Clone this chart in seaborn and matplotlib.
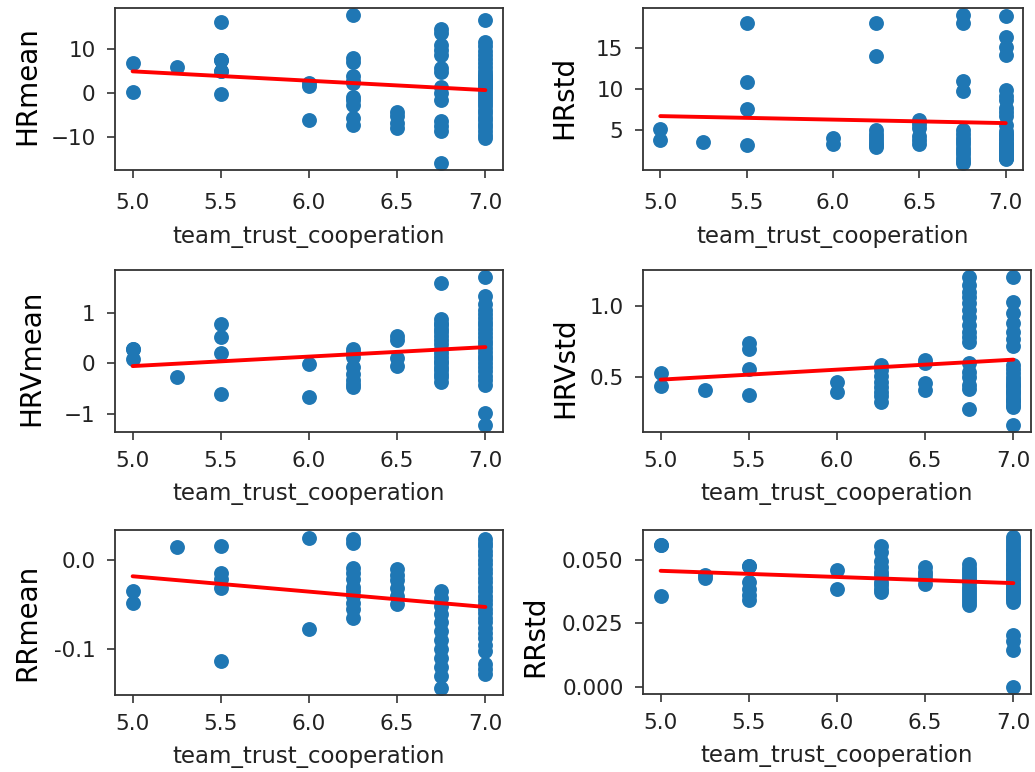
import numpy as np
import pandas as pd
import matplotlib
matplotlib.use("Agg")
import matplotlib.pyplot as plt
import seaborn as sns

# ---------------- data ----------------
x_levels = [5.0, 5.25, 5.5, 6.0, 6.25, 6.5, 6.75, 7.0]
x_name = "team_trust_cooperation"

hr_mean = [
    [6.9, 0.3],
    [6.0],
    [16.1, 7.5, 7.5, 5.1, 5.1, -0.1],
    [2.4, 1.6, -6.0],
    [17.7, 7.9, 7.2, 3.8, 2.8, 2.3, -0.8, -1.5, -2.6, -5.7, -7.2],
    [-4.2, -5.3, -6.8, -7.9],
    [14.7, 13.6, 10.9, 9.8, 8.7, 5.7, 4.9, 1.5, 0.0, -1.5, -6.4, -7.5, -8.7, -15.8],
    [16.6, 11.7, 10.8, 9.6, 8.7, 7.8, 6.9, 6.0, 5.1, 4.3, 3.8, 3.5, 3.0, 2.7, 2.2, 1.9,
     1.5, 1.2, 0.5, -0.2, -0.9, -1.6, -2.3, -3.0, -3.8, -4.6, -5.4, -6.2, -7.0, -7.8,
     -8.6, -9.4, -10.2],
]

hr_std = [
    [5.2, 3.8],
    [3.6],
    [18.0, 10.8, 7.6, 3.2],
    [4.1, 3.4],
    [18.0, 14.0, 5.1, 4.6, 4.2, 3.8, 3.5, 3.2, 3.0],
    [6.3, 5.8, 5.3, 4.3, 3.8, 3.3],
    [18.9, 18.0, 11.0, 9.7, 5.1, 4.6, 4.1, 3.7, 3.3, 2.9, 2.5, 2.1, 1.7, 1.3, 1.1],
    [18.8, 16.3, 15.1, 14.1, 9.9, 9.2, 8.7, 7.7, 7.2, 6.7, 5.7, 4.9, 4.6, 4.4, 4.1,
     3.9, 3.6, 3.4, 3.2, 3.0, 2.8, 2.6, 2.4, 2.2, 2.0, 1.9, 1.7, 1.6, 1.5],
]

hrv_mean = [
    [0.29, 0.29, 0.08],
    [-0.26],
    [0.78, 0.52, 0.20, -0.60],
    [-0.01, -0.67],
    [0.29, 0.22, 0.13, -0.07, -0.20, -0.33, -0.40, -0.46],
    [0.54, 0.46, 0.10, -0.05],
    [1.59, 0.88, 0.80, 0.75, 0.68, 0.62, 0.54, 0.46, 0.38, 0.29, 0.21, 0.13, 0.05,
     0.00, -0.07, -0.13, -0.20, -0.26, -0.36],
    [1.70, 1.34, 1.18, 1.05, 0.98, 0.90, 0.82, 0.75, 0.68, 0.60, 0.52, 0.45, 0.38,
     0.30, 0.22, 0.15, 0.08, 0.00, -0.08, -0.16, -0.24, -0.32, -0.42, -0.98, -1.21],
]

hrv_std = [
    [0.53, 0.44],
    [0.41],
    [0.74, 0.70, 0.56, 0.38],
    [0.47, 0.40],
    [0.59, 0.55, 0.51, 0.47, 0.43, 0.40, 0.37, 0.33],
    [0.62, 0.60, 0.46, 0.41],
    [1.20, 1.15, 1.10, 1.06, 1.02, 0.97, 0.92, 0.87, 0.82, 0.78, 0.75, 0.60, 0.54,
     0.50, 0.45, 0.42, 0.28],
    [1.20, 1.03, 0.95, 0.88, 0.82, 0.77, 0.72, 0.59, 0.56, 0.53, 0.50, 0.48, 0.46,
     0.45, 0.43, 0.41, 0.40, 0.39, 0.37, 0.35, 0.34, 0.33, 0.31, 0.29, 0.17],
]

rr_mean = [
    [-0.035, -0.048],
    [0.014],
    [0.015, -0.015, -0.022, -0.032, -0.113],
    [0.025, -0.077],
    [0.023, 0.019, -0.009, -0.015, -0.021, -0.030, -0.035, -0.040, -0.048, -0.055, -0.065],
    [-0.010, -0.017, -0.023, -0.032, -0.040, -0.049],
    [-0.035, -0.043, -0.052, -0.061, -0.070, -0.080, -0.090, -0.100, -0.110, -0.120,
     -0.130, -0.143],
    [0.023, 0.019, 0.015, 0.010, 0.005, 0.000, -0.005, -0.010, -0.015, -0.020, -0.025,
     -0.030, -0.035, -0.040, -0.045, -0.050, -0.055, -0.060, -0.065, -0.070, -0.076,
     -0.082, -0.088, -0.095, -0.102, -0.117, -0.122, -0.128],
]

rr_std = [
    [0.0559, 0.0559, 0.0357],
    [0.0441, 0.0428],
    [0.0478, 0.0478, 0.0413, 0.0387, 0.0361, 0.0341],
    [0.0461, 0.0387],
    [0.0556, 0.0530, 0.0497, 0.0471, 0.0452, 0.0439, 0.0413, 0.0400, 0.0387, 0.0374],
    [0.0471, 0.0452, 0.0439, 0.0426, 0.0406],
    [0.0484, 0.0470, 0.0458, 0.0445, 0.0432, 0.0420, 0.0408, 0.0395, 0.0383, 0.0370,
     0.0358, 0.0345, 0.0333, 0.0322],
    [0.0589, 0.0578, 0.0567, 0.0556, 0.0545, 0.0534, 0.0523, 0.0512, 0.0500, 0.0490,
     0.0480, 0.0470, 0.0460, 0.0450, 0.0440, 0.0430, 0.0420, 0.0410, 0.0400, 0.0390,
     0.0385, 0.0380, 0.0375, 0.0370, 0.0365, 0.0360, 0.0355, 0.0350, 0.0345, 0.0335,
     0.0204, 0.0178, 0.0146, 0.0000],
]

panels = [
    ("HRmean", hr_mean, [-10, 0, 10]),
    ("HRstd", hr_std, [5, 10, 15]),
    ("HRVmean", hrv_mean, [-1, 0, 1]),
    ("HRVstd", hrv_std, [0.5, 1.0]),
    ("RRmean", rr_mean, [-0.1, 0.0]),
    ("RRstd", rr_std, [0.0, 0.025, 0.05]),
]
x_ticks = [5.0, 5.5, 6.0, 6.5, 7.0]


def to_frame(name, groups):
    xs, ys = [], []
    for xv, vals in zip(x_levels, groups):
        xs.extend([xv] * len(vals))
        ys.extend(vals)
    return pd.DataFrame({x_name: xs, name: ys})


# ---------------- layout ----------------
sns.set_style("ticks")
plt.rcParams["font.family"] = ["DejaVu Sans"]

W, H = 1035, 772
fig = plt.figure(figsize=(W / 100, H / 100), dpi=100)

# pixel boxes: left, top, right, bottom
boxes = [
    (115, 8, 503, 170),
    (643, 8, 1023, 170),
    (115, 270, 503, 432),
    (643, 270, 1031, 432),
    (115, 530, 503, 695),
    (643, 530, 1031, 694),
]
label_x = [-0.19, -0.171, -0.18, -0.165, -0.19, -0.242]
label_y = [0.52, 0.45, 0.46, 0.40, 0.44, 0.35]
x_pad = [11, 11, 8, 8, 8, 8]
x_labelpad = [9, 9, 8, 8, 8, 8]

blue = "#1f77b4"
for i, (name, groups, yt) in enumerate(panels):
    l, t, r, b = boxes[i]
    ax = fig.add_axes([l / W, 1 - b / H, (r - l) / W, (b - t) / H])
    df = to_frame(name, groups)
    sns.regplot(
        data=df, x=x_name, y=name, ax=ax, ci=None,
        scatter_kws=dict(s=115, color=blue, alpha=1, linewidths=0),
        line_kws=dict(color="red", lw=2.8),
    )
    ax.set_xticks(x_ticks)
    ax.set_yticks(yt)
    if name == "RRmean":
        ax.set_yticklabels(["-0.1", "0.0"])
    ax.tick_params(labelsize=15.5, length=5.5, width=1.1, colors="#222222")
    ax.tick_params(axis="x", pad=x_pad[i])
    ax.tick_params(axis="y", pad=8.5)
    ax.set_xlabel(x_name, fontsize=16.5, color="#222222", labelpad=x_labelpad[i])
    ax.set_ylabel(name, fontsize=20, color="black")
    ax.yaxis.set_label_coords(label_x[i], label_y[i])
    for sp in ax.spines.values():
        sp.set_linewidth(1.3)
        sp.set_color("#333333")

fig.savefig("out.png", dpi=100)
